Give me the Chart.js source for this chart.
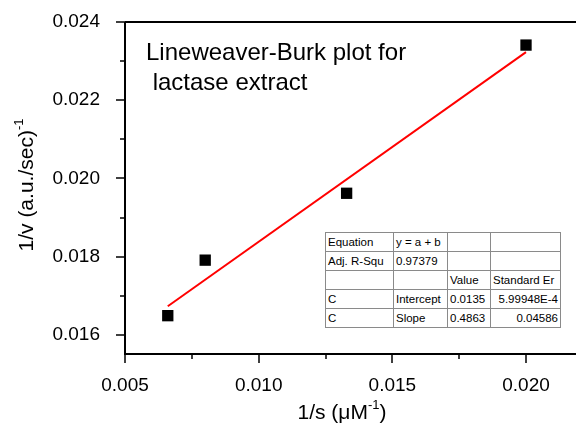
<!DOCTYPE html>
<html>
<head>
<meta charset="utf-8">
<title>Lineweaver-Burk plot</title>
<script src="https://cdn.jsdelivr.net/npm/chart.js@4.4.1/dist/chart.umd.min.js"></script>
<style>
    html, body { margin: 0; padding: 0; background: #fff; }
    #wrap { position: relative; width: 576px; height: 425px; overflow: hidden; }
    #chart { position: absolute; left: 0; top: 0; }
    #fitTable {
        position: absolute; left: 325px; top: 232px; width: 235px;
        border-collapse: collapse; table-layout: fixed;
        font-family: "Liberation Sans", Arial, sans-serif; font-size: 11.5px; color: #000;
        border: 1px solid #000; background: #fff;
    }
    #fitTable td {
        border: 1px solid #8a8a8a; height: 18px; padding: 0 2px;
        white-space: nowrap; overflow: hidden; line-height: 18px;
    }
    #fitTable td.num { text-align: right; }
</style>
</head>
<body>
<div id="wrap">
    <canvas id="chart" width="576" height="425"></canvas>
    <table id="fitTable">
        <colgroup><col style="width:68px"><col style="width:54px"><col style="width:43px"><col style="width:70px"></colgroup>
        <tbody></tbody>
    </table>
</div>
<script>
// Data
const substrateInv = [0.00660, 0.00800, 0.01329, 0.02000];   // 1/s
const velocityInv = [0.01649, 0.01791, 0.01962, 0.02341];    // 1/v
const fitLineX = [0.00660, 0.02000];
const fitLineY = [0.01673, 0.02323];

const xTickValues = [0.005, 0.0075, 0.010, 0.0125, 0.015, 0.0175, 0.020];
const yTickValues = [0.016, 0.017, 0.018, 0.019, 0.020, 0.021, 0.022, 0.023, 0.024];
const xMajorLabels = ['0.005', '0.010', '0.015', '0.020'];
const yMajorLabels = ['0.016', '0.018', '0.020', '0.022', '0.024'];

const tableRows = [
    ['Equation', 'y = a + b', '', ''],
    ['Adj. R-Squ', '0.97379', '', ''],
    ['', '', 'Value', 'Standard Er'],
    ['C', 'Intercept', '0.0135', '5.99948E-4'],
    ['C', 'Slope', '0.4863', '0.04586']
];

const FONT = '"Liberation Sans", Arial, sans-serif';

// fill the fit table
const tbody = document.querySelector('#fitTable tbody');
tableRows.forEach((row, r) => {
    const tr = document.createElement('tr');
    row.forEach((cell, c) => {
        const td = document.createElement('td');
        td.textContent = cell;
        if (c === 3 && r >= 3) td.className = 'num';
        tr.appendChild(td);
    });
    tbody.appendChild(tr);
});

// draws text with a raised "-1" exponent, parts = [[text, isSup], ...]
function drawSupText(ctx, parts, size) {
    const supSize = Math.round(size * 0.62);
    let total = 0;
    parts.forEach(p => {
        ctx.font = (p[1] ? supSize : size) + 'px ' + FONT;
        total += ctx.measureText(p[0]).width;
    });
    let x = -total / 2;
    parts.forEach(p => {
        ctx.font = (p[1] ? supSize : size) + 'px ' + FONT;
        ctx.fillText(p[0], x, p[1] ? -size * 0.5 : 0);
        x += ctx.measureText(p[0]).width;
    });
}

// fixed axis box, no extra room for the end labels
const fixBox = size => scale => {
    if (scale.isHorizontal()) scale.height = size; else scale.width = size;
    scale.paddingTop = 0;
    scale.paddingBottom = 0;
    scale.paddingLeft = 0;
    scale.paddingRight = 0;
};

const framePlugin = {
    id: 'frame',
    afterDraw(chart) {
        const ctx = chart.ctx;
        const area = chart.chartArea;
        const xs = chart.scales.x;
        const ys = chart.scales.y;
        ctx.save();
        ctx.strokeStyle = '#000';
        ctx.fillStyle = '#000';

        // axis lines + top frame line
        ctx.lineWidth = 2;
        ctx.beginPath();
        ctx.moveTo(area.left, area.top); ctx.lineTo(area.right, area.top);
        ctx.moveTo(area.left, area.top); ctx.lineTo(area.left, area.bottom);
        ctx.moveTo(area.left - 1, area.bottom); ctx.lineTo(area.right, area.bottom);
        ctx.stroke();

        // outward tick marks, major ones longer
        ctx.lineWidth = 1.5;
        ctx.beginPath();
        xs.ticks.forEach((t, i) => {
            const px = Math.round(xs.getPixelForValue(t.value));
            ctx.moveTo(px, area.bottom);
            ctx.lineTo(px, area.bottom + (i % 2 === 0 ? 9 : 5));
        });
        ys.ticks.forEach((t, i) => {
            const py = Math.round(ys.getPixelForValue(t.value));
            ctx.moveTo(area.left, py);
            ctx.lineTo(area.left - (i % 2 === 0 ? 9 : 5), py);
        });
        ctx.stroke();

        // axis titles
        ctx.textBaseline = 'alphabetic';
        ctx.textAlign = 'left';
        ctx.save();
        ctx.translate(342, 419);
        drawSupText(ctx, [['1/s (\u03bcM', false], ['-1', true], [')', false]], 21);
        ctx.restore();

        ctx.save();
        ctx.translate(33, 185);
        ctx.rotate(-Math.PI / 2);
        drawSupText(ctx, [['1/v (a.u./sec)', false], ['-1', true]], 21);
        ctx.restore();

        // note inside the plot
        ctx.font = '24px ' + FONT;
        ctx.fillText('Lineweaver-Burk plot for', 146, 60);
        ctx.fillText(' lactase extract', 146, 90);
        ctx.restore();
    }
};

const tickFont = { family: FONT, size: 19 };

new Chart(document.getElementById('chart'), {
    type: 'scatter',
    data: {
        datasets: [
            {
                label: 'Data',
                data: substrateInv.map((v, i) => ({ x: v, y: velocityInv[i] })),
                pointStyle: 'rect',
                pointRadius: 8,
                pointBorderWidth: 0,
                backgroundColor: '#000',
                borderColor: '#000',
                order: 1
            },
            {
                label: 'Fit',
                data: fitLineX.map((v, i) => ({ x: v, y: fitLineY[i] })),
                showLine: true,
                pointRadius: 0,
                borderColor: '#ff0000',
                borderWidth: 2,
                order: 2
            }
        ]
    },
    options: {
        responsive: false,
        animation: false,
        events: [],
        layout: { autoPadding: false, padding: { top: 22, right: 0, left: 0, bottom: 0 } },
        plugins: { legend: { display: false }, tooltip: { enabled: false } },
        scales: {
            x: {
                type: 'linear',
                min: 0.005,
                max: 0.02187,
                afterBuildTicks: scale => { scale.ticks = xTickValues.map(v => ({ value: v })); },
                afterFit: fixBox(71),
                grid: { display: false },
                border: { display: false },
                ticks: {
                    autoSkip: false, maxRotation: 0, padding: 12, color: '#000', font: tickFont,
                    callback: (v, i) => (i % 2 === 0 ? xMajorLabels[i / 2] : '')
                }
            },
            y: {
                type: 'linear',
                min: 0.01551,
                max: 0.024,
                afterBuildTicks: scale => { scale.ticks = yTickValues.map(v => ({ value: v })); },
                afterFit: fixBox(125),
                grid: { display: false },
                border: { display: false },
                ticks: {
                    autoSkip: false, padding: 17, color: '#000', font: tickFont,
                    callback: (v, i) => (i % 2 === 0 ? yMajorLabels[i / 2] : '')
                }
            }
        }
    },
    plugins: [framePlugin]
});
</script>
</body>
</html>
